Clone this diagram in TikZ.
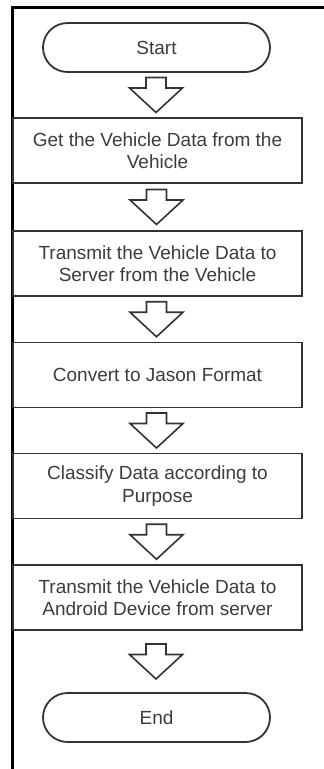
\documentclass[tikz,border=0pt]{standalone}
\usepackage{fontspec}
\setmainfont{Liberation Sans}
\usetikzlibrary{calc}
\definecolor{edge}{HTML}{333333}
\definecolor{ink}{HTML}{3C3C3C}
\tikzset{
  base/.style={draw=edge, line width=1.8pt, text=ink, align=center, inner sep=0pt,
    font=\fontsize{19}{22.5}\selectfont},
  stepbox/.style={base, rectangle, minimum width=289pt, minimum height=65pt},
  terminal/.style={base, rectangle, rounded corners=24.5pt, minimum width=227pt, minimum height=49pt},
  arrowline/.style={draw=edge, line width=1.6pt, line join=miter, fill=white},
  frameline/.style={draw=black, line width=3pt},
  pics/blockdown/.style={code={
    \draw[arrowline] (-10,-17.5) -- (10,-17.5) -- (10,-7) -- (26.5,-7) -- (0,17.5)
      -- (-26.5,-7) -- (-10,-7) -- cycle;
  }}
}
\begin{document}
\begin{tikzpicture}[x=1pt,y=-1pt]
\useasboundingbox (0,0) rectangle (324,769);
% page frame: top and left edges
\coordinate (fcorner) at (12.5,7);
\coordinate (ftop) at (324,7);
\coordinate (fbottom) at (12.5,769);
\draw[frameline] (ftop) -- (fcorner) -- (fbottom);

% flow steps
\node[terminal] (start) at (156.5,47.5) {Start};
\node[stepbox] (get) at (157.5,150.5) {Get the Vehicle Data from the\\Vehicle};
\node[stepbox] (send) at (157.5,263.5) {Transmit the Vehicle Data to\\Server from the Vehicle};
\node[stepbox] (json) at (157.5,375) {Convert to Jason Format};
\node[stepbox] (classify) at (157.5,486) {Classify Data according to\\Purpose};
\node[stepbox] (android) at (157.5,597.5) {Transmit the Vehicle Data to\\Android Device from server};
\node[terminal] (end) at (156.5,717.5) {End};

% hollow block arrows between consecutive steps
\foreach \a/\b in {start/get, get/send, send/json, json/classify, classify/android, android/end}{
  \pic at ($(\a.south)!0.5!(\b.north)+(-1,0)$) {blockdown};
}
\end{tikzpicture}
\end{document}
